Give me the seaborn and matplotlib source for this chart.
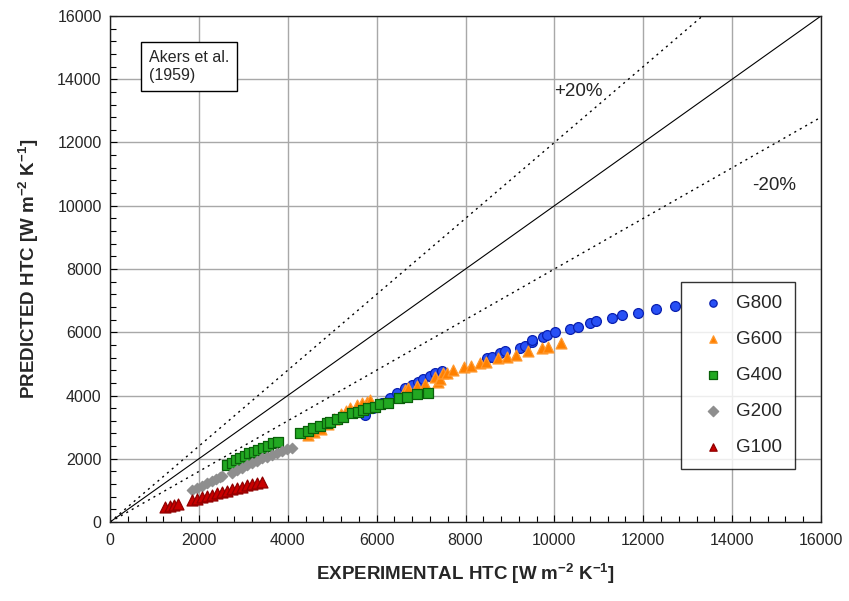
import numpy as np
import pandas as pd
import matplotlib
matplotlib.use("Agg")
import matplotlib.pyplot as plt
import matplotlib.ticker as ticker
import seaborn as sns

# experimental vs predicted HTC values
g800_exp = [5737, 5925, 6113, 6300, 6450, 6638, 6788, 6938, 7050, 7200, 7313, 7463,
            8475, 8588, 8775, 8888, 9225, 9338, 9488, 9500, 9750, 9825, 10013, 10350,
            10538, 10800, 10935, 11303, 11513, 11888, 12285, 12713]
g800_pred = [3370, 3595, 3753, 3911, 4090, 4227, 4332, 4437, 4512, 4617, 4702, 4784,
             5176, 5228, 5333, 5417, 5490, 5575, 5702, 5754, 5838, 5913, 6017, 6092,
             6176, 6282, 6356, 6440, 6545, 6619, 6735, 6830]

g600_exp = [4462, 4600, 4750, 4900, 5050, 5200, 5300, 5400, 5550, 5662, 5775, 5850,
            6638, 6705, 6900, 7088, 7313, 7388, 7425, 7500, 7575, 7725, 7965, 8123,
            8325, 8460, 8738, 8925, 9135, 9413, 9713, 9863, 10148]
g600_pred = [2751, 2850, 2950, 3100, 3250, 3400, 3500, 3595, 3700, 3773, 3805, 3858,
             4174, 4237, 4300, 4364, 4596, 4437, 4512, 4702, 4722, 4806, 4891, 4933,
             5018, 5069, 5176, 5207, 5281, 5417, 5490, 5543, 5649]

g400_exp = [2625, 2738, 2835, 2925, 3038, 3135, 3240, 3338, 3450, 3563, 3660, 3773,
            4275, 4462, 4575, 4725, 4875, 4950, 5100, 5250, 5437, 5587, 5700, 5812,
            5962, 6075, 6262, 6503, 6690, 6900, 7162]
g400_pred = [1802, 1875, 1960, 2014, 2087, 2172, 2223, 2277, 2330, 2403, 2488, 2539,
             2825, 2888, 2962, 3036, 3120, 3172, 3247, 3330, 3437, 3469, 3542, 3595,
             3646, 3731, 3773, 3911, 3963, 4038, 4070]

g200_exp = [1838, 1950, 2062, 2175, 2287, 2385, 2475, 2513,
            2738, 2850, 2963, 3075, 3188, 3300, 3413, 3525, 3638, 3750, 3863, 3975, 4088]
g200_pred = [1000, 1065, 1138, 1223, 1296, 1350, 1420, 1454,
             1560, 1644, 1718, 1802, 1875, 1939, 2014, 2065, 2119, 2191, 2245, 2299, 2330]

g100_exp = [1238, 1350, 1440, 1537,
            1838, 1950, 2062, 2175, 2287, 2400, 2513, 2625, 2738, 2850, 2963, 3075,
            3188, 3300, 3413]
g100_pred = [484, 506, 538, 569,
             696, 737, 781, 822, 863, 907, 949, 990, 1034, 1065, 1097, 1160,
             1202, 1243, 1274]

groups = ["G800", "G600", "G400", "G200", "G100"]
exp_vals = [g800_exp, g600_exp, g400_exp, g200_exp, g100_exp]
pred_vals = [g800_pred, g600_pred, g400_pred, g200_pred, g100_pred]

styles = {
    "G800": dict(marker="o", color="#2850F5", edgecolor="#0A20B0", s=50),
    "G600": dict(marker="^", color="#FF8000", edgecolor="#FF9A30", s=62),
    "G400": dict(marker="s", color="#22A822", edgecolor="#0A600A", s=44),
    "G200": dict(marker="D", color="#8E8E8E", edgecolor="#8E8E8E", s=28),
    "G100": dict(marker="^", color="#C80000", edgecolor="#900000", s=62),
}

frames = []
for g, xs, ys in zip(groups, exp_vals, pred_vals):
    frames.append(pd.DataFrame({"exp": xs, "pred": ys, "group": g}))
df = pd.concat(frames, ignore_index=True)

sns.set_theme(style="ticks")
plt.rcParams['font.family'] = ['Liberation Sans', 'DejaVu Sans']
plt.rcParams['mathtext.default'] = 'regular'

fig = plt.figure(figsize=(8.49, 6.01), dpi=100)
ax = fig.add_axes([0.1296, 0.1314, 0.8374, 0.842])

# parity line and +/-20% bands
line_x = np.array([0, 16000])
ax.plot(line_x, line_x, color="black", lw=0.8, zorder=2)
ax.plot(line_x, 1.2 * line_x, color="black", lw=1.0, ls=(0, (1.5, 3)), zorder=2)
ax.plot(line_x, 0.8 * line_x, color="black", lw=1.0, ls=(0, (1.5, 3)), zorder=2)

for g in groups:
    st = styles[g]
    sns.scatterplot(data=df[df["group"] == g], x="exp", y="pred", ax=ax,
                    marker=st["marker"], color=st["color"], edgecolor=st["edgecolor"],
                    s=st["s"], linewidth=0.9, label=g, zorder=3)

ax.set_xlim(0, 16000)
ax.set_ylim(0, 16000)
ax.xaxis.set_major_locator(ticker.MultipleLocator(2000))
ax.yaxis.set_major_locator(ticker.MultipleLocator(2000))
ax.xaxis.set_minor_locator(ticker.MultipleLocator(400))
ax.yaxis.set_minor_locator(ticker.MultipleLocator(400))
ax.tick_params(which="both", direction="in", color="black", labelsize=11.5,
               bottom=True, left=True, top=False, right=False)
ax.tick_params(which="major", length=5, width=0.8)
ax.tick_params(which="minor", length=4, width=0.8)
ax.tick_params(axis="x", pad=8)
ax.tick_params(axis="y", pad=6)
ax.grid(True, which="major", color="#A8A8A8", lw=1.0)
ax.set_axisbelow(True)
for sp in ax.spines.values():
    sp.set_visible(True)
    sp.set_color("#202020")
    sp.set_linewidth(1.0)

ax.set_xlabel("EXPERIMENTAL HTC [W m$^{-2}$ K$^{-1}$]", fontsize=13.5,
              fontweight="bold", labelpad=10)
ax.set_ylabel("PREDICTED HTC [W m$^{-2}$ K$^{-1}$]", fontsize=13.5,
              fontweight="bold", labelpad=12)

ax.text(10000, 13600, "+20%", fontsize=13.5, va="center", ha="left")
ax.text(14450, 10650, "-20%", fontsize=13.5, va="center", ha="left")
ax.text(880, 14400, "Akers et al.\n(1959)", fontsize=11.5, va="center", ha="left",
        linespacing=1.25,
        bbox=dict(boxstyle="square,pad=0.5", fc="white", ec="black", lw=1.0))

leg = ax.legend(loc="center right", bbox_to_anchor=(0.9634, 0.29), frameon=True,
                fancybox=False, edgecolor="black", fontsize=13.5, labelspacing=1.0,
                handletextpad=0.2, borderpad=0.7, handlelength=2.0,
                borderaxespad=0.0)
leg.get_frame().set_linewidth(1.0)
for h in leg.legend_handles:
    h.set_sizes([28])

fig.savefig("out.png", dpi=100)
